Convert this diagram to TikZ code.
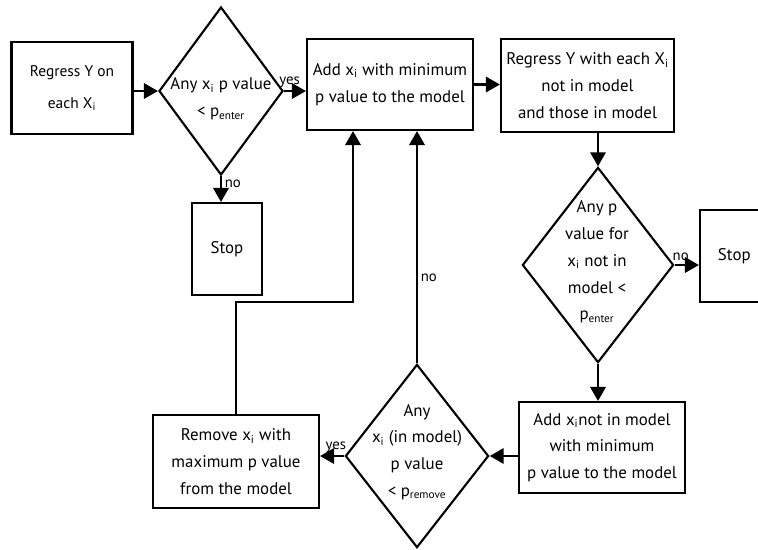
\documentclass[tikz,border=0pt]{standalone}
\usepackage{fontspec}
\setmainfont{PT Sans}
\usetikzlibrary{arrows.meta,shapes.geometric}

\begin{document}
\begin{tikzpicture}[x=0.025cm,y=-0.025cm,line width=1.5pt,
  every node/.style={font=\fontsize{12}{19}\selectfont,align=center},
  block/.style={draw,rectangle,inner sep=2pt},
  decide/.style={draw,diamond,inner sep=0pt},
  arr/.style={-{Triangle[length=10pt,width=11pt]}},
  lbl/.style={font=\fontsize{10.5}{12}\selectfont,inner sep=2pt}]
  \useasboundingbox (0,0) rectangle (758,549);

  % top row
  \node[block,minimum width=3.025cm,minimum height=2.3cm,font=\fontsize{11}{23}\selectfont]
    (regress) at (72,88) {Regress Y on\\each X\textsubscript{i}};
  \node[decide,minimum width=3.1cm,minimum height=4.2cm] (dia1) at (221,91) {};
  \node (dia1txt) at (221,99) {Any x\textsubscript{i} p value\\< p\textsubscript{enter}};
  \node[block,minimum width=1.75cm,minimum height=2.3cm] (stop1) at (227,249) {Stop};
  \node[block,minimum width=4.15cm,minimum height=2.275cm]
    (add) at (390,84.5) {Add x\textsubscript{i} with minimum\\p value to the model};
  \node[block,minimum width=4.325cm,minimum height=2.325cm]
    (regeach) at (587.5,85.5) {Regress Y with each X\textsubscript{i}\\not in model\\and those in model};

  % right column
  \node[decide,minimum width=3.78cm,minimum height=4.88cm] (dia2) at (598,265) {};
  \node (dia2txt) at (597,262) {Any p\\value for\\x\textsubscript{i} not in\\model <\\p\textsubscript{enter}};
  \node[block,minimum width=2.5cm,minimum height=2.3cm,text width=1.6cm,align=left]
    (stop2) at (750,256) {Stop};
  \node[block,minimum width=4.15cm,minimum height=2.275cm]
    (addnot) at (602,447.5) {Add x\textsubscript{i}not in model\\with minimum\\p value to the model};

  % bottom row
  \node[decide,minimum width=3.58cm,minimum height=4.58cm] (dia3) at (417,456) {};
  \node (dia3txt) at (417,452) {Any\\x\textsubscript{i} (in model)\\p value\\< p\textsubscript{remove}};
  \node[block,minimum width=4.15cm,minimum height=2.325cm]
    (remove) at (236,461.5) {Remove x\textsubscript{i} with\\maximum p value\\from the model};
  \coordinate (turn) at (353,302);

  % connectors
  \draw[arr] (regress.east |- dia1.west) -- (dia1.west);
  \draw[arr] (dia1.east) -- node[lbl,above,pos=0.25] (yes1) {yes} (dia1.east -| add.west);
  \draw[arr] (dia1.south) -- node[lbl,right,pos=0.3] (no1) {no} (dia1.south |- stop1.north);
  \draw[arr] (add.east) -- (add.east -| regeach.west);
  \draw[arr] (dia2.north |- regeach.south) -- (dia2.north);
  \draw[arr] (dia2.east) -- node[lbl,above,pos=0.25] (no2) {no} (dia2.east -| stop2.west);
  \draw[arr] (dia2.south) -- (dia2.south |- addnot.north);
  \draw[arr] (addnot.west |- dia3.east) -- (dia3.east);
  \draw[arr] (dia3.west) -- node[lbl,above,pos=0.35] (yes2) {yes} (dia3.west -| remove.east);
  \draw[arr] (dia3.north) -- node[lbl,right,pos=0.37] (no3) {no} (dia3.north |- add.south);
  \draw[arr] (remove.north) |- (turn) -- (turn |- add.south);
\end{tikzpicture}
\end{document}
